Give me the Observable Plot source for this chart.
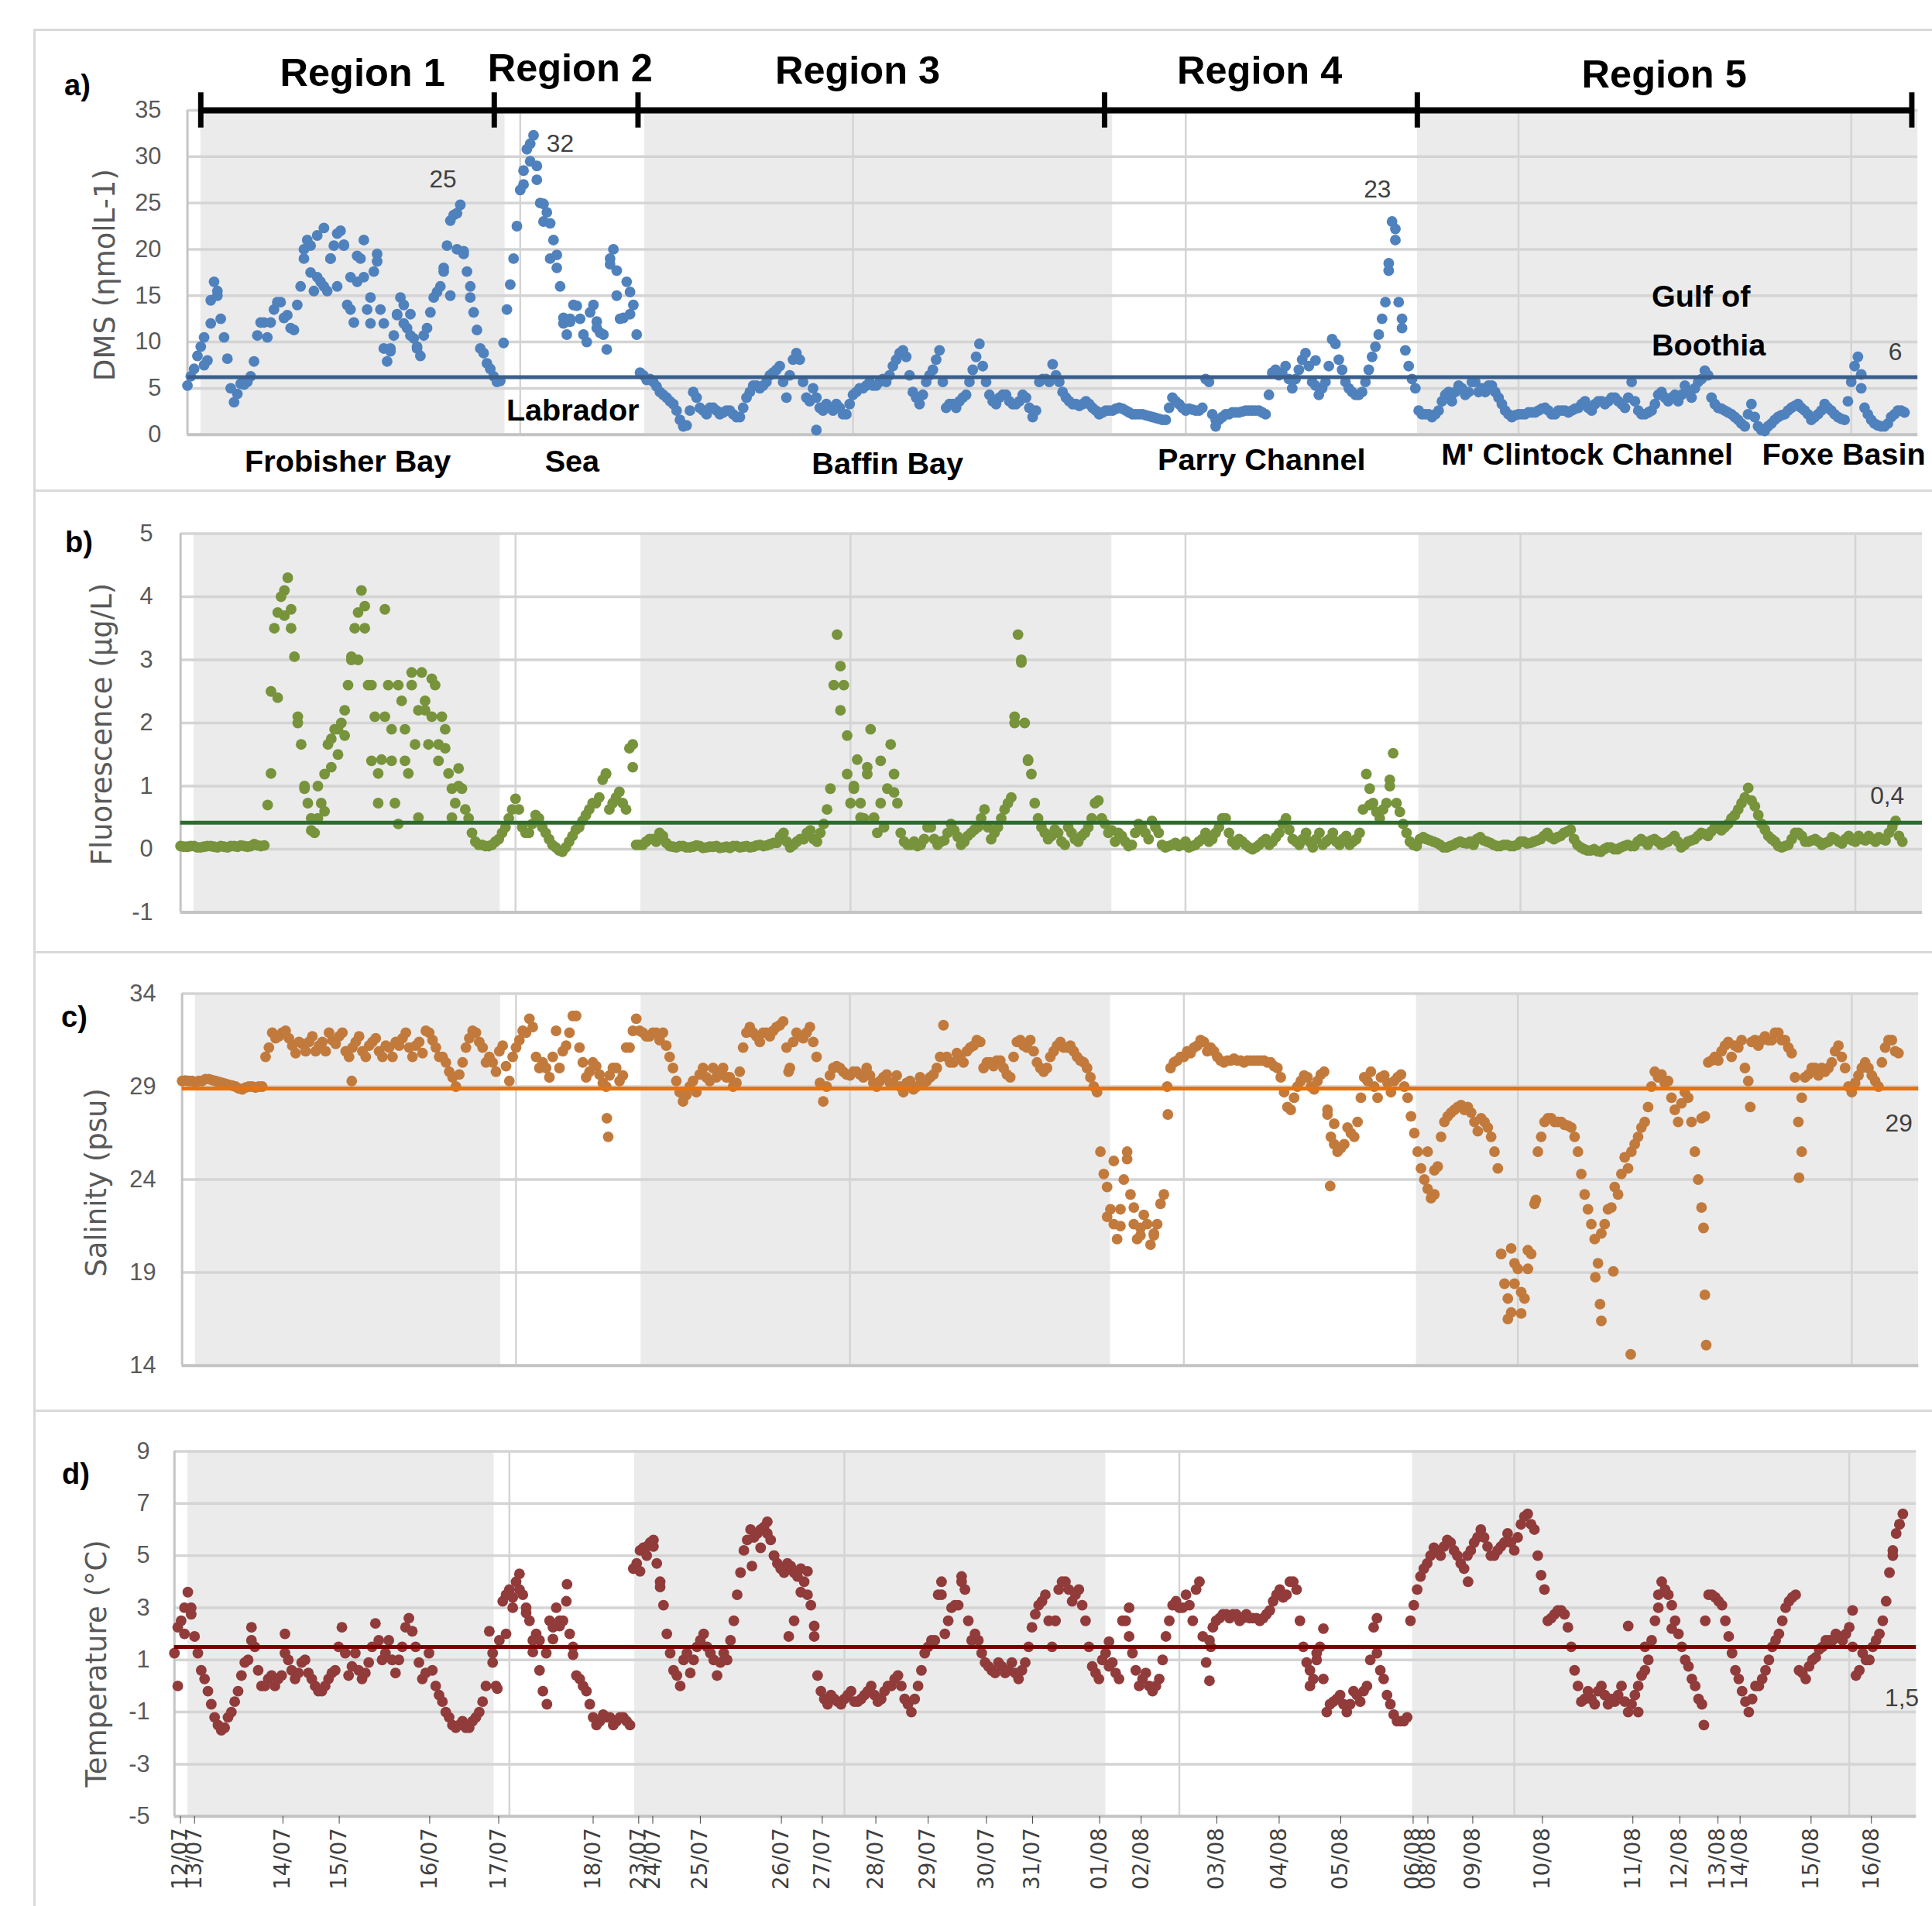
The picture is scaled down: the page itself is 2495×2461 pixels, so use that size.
<!DOCTYPE html>
<html>
<head>
<meta charset="utf-8">
<script src="https://cdn.jsdelivr.net/npm/d3@7"></script>
<script src="https://cdn.jsdelivr.net/npm/@observablehq/plot@0.6"></script>
<style>
html,body{margin:0;padding:0;background:#fff;}
body{width:2495px;height:2461px;overflow:hidden;position:relative;}
.frame{position:absolute;border:3px solid #D9D9D9;box-sizing:border-box;}
.panel{position:absolute;left:0;}
.letter{position:absolute;font-family:"Liberation Sans",Arial,sans-serif;font-weight:bold;font-size:38px;color:#000;transform:translate(-50%,-50%);}
.ytitle{position:absolute;font-family:"DejaVu Sans",sans-serif;font-size:37px;color:#595959;white-space:nowrap;transform:translate(-50%,-50%) rotate(-90deg);}
</style>
</head>
<body>
<div class="frame" style="left:43px;top:37px;width:2600px;height:598px"></div>
<div class="frame" style="left:43px;top:632px;width:2600px;height:599px"></div>
<div class="frame" style="left:43px;top:1228px;width:2600px;height:595px"></div>
<div class="frame" style="left:43px;top:1820px;width:2600px;height:700px"></div>
<div id="pa" class="panel" style="top:38px"></div>
<div id="pb" class="panel" style="top:634px"></div>
<div id="pc" class="panel" style="top:1229px"></div>
<div id="pd" class="panel" style="top:1821px"></div>
<div class="letter" style="left:100px;top:110px">a)</div>
<div class="letter" style="left:102px;top:700px">b)</div>
<div class="letter" style="left:96px;top:1313px">c)</div>
<div class="letter" style="left:98px;top:1903px">d)</div>
<div class="ytitle" style="left:135px;top:355px">DMS (ηmolL-1)</div>
<div class="ytitle" style="left:131px;top:935px">Fluorescence (µg/L)</div>
<div class="ytitle" style="left:124px;top:1527px">Salinity (psu)</div>
<div class="ytitle" style="left:124px;top:2148px">Temperature (°C)</div>
<script>
// x axis = sample number; readings every STEP samples, plus readings half-way between them
const STEP = 10;

// ---- DMS (nmol/L): samples 0,10,...,2580 ----
const dms = [
5.3,7.1,9.5,8.0,16.5,12.5,8.2,3.5,5.5,5.7,
7.9,12.1,10.5,13.5,14.3,12.9,11.3,16.0,21.0,15.5,
16.5,15.5,20.4,22.0,14.0,12.1,19.0,13.5,17.6,13.5,
7.9,10.7,14.8,11.5,10.4,8.5,11.5,14.8,16.0,20.4,
23.7,24.8,17.6,13.2,9.3,7.7,6.3,5.8,13.5,19.0,
26.4,30.8,32.3,25.0,24.0,21.0,16.0,10.8,14.0,12.5,
10.0,14.0,11.0,9.2,20.0,12.5,16.5,14.0,6.7,5.9,
5.7,4.6,4.0,3.3,1.6,1.0,4.6,2.9,2.2,2.9,
2.2,2.6,2.2,1.9,4.0,5.3,5.0,5.7,6.7,7.4,
4.0,8.1,8.1,4.0,5.0,2.9,3.3,2.6,2.9,2.2,
4.3,5.0,5.3,5.3,5.7,5.7,7.4,8.8,8.4,4.6,
3.3,5.7,7.0,9.1,2.9,3.3,3.6,4.3,7.0,9.8,
5.7,3.6,4.0,4.3,3.3,3.6,4.0,1.9,5.7,6.0,
7.6,5.7,4.0,3.3,3.1,3.6,2.9,2.2,2.6,2.6,
2.9,2.6,2.2,2.2,2.1,1.9,1.7,1.6,4.0,3.3,
2.6,2.7,2.6,6.0,2.2,1.6,2.2,2.4,2.4,2.6,
2.6,2.6,2.2,6.7,6.4,7.4,5.0,7.0,8.8,5.7,
4.3,5.7,10.3,8.1,5.7,4.6,4.3,5.7,8.4,10.8,
14.3,23.0,14.3,9.1,6.0,2.6,2.2,1.9,2.6,4.3,
3.6,5.3,4.3,5.7,4.6,4.6,5.3,4.0,2.6,1.9,
2.2,2.2,2.4,2.6,2.9,2.2,2.6,2.6,2.6,2.9,
3.6,2.6,3.6,3.3,4.0,3.6,2.9,5.7,2.6,2.2,
2.6,4.3,4.0,4.0,3.6,5.3,4.0,5.7,6.9,4.0,
2.9,2.6,2.2,1.6,0.9,3.3,0.9,0.4,1.2,1.9,
2.2,2.9,3.3,2.6,1.6,2.2,3.3,2.6,1.9,1.6,
5.7,8.4,2.9,1.6,1.0,0.9,1.9,2.6,2.4];
// DMS: samples 5,15,...,2575
const dmsMid = [
6.3,8.5,7.5,12.0,15.5,10.5,5.0,4.4,5.4,6.3,
10.7,12.1,12.1,14.3,12.6,11.5,14.0,19.0,20.4,17.0,
16.0,19.0,21.7,20.4,13.5,19.3,21.0,14.8,18.7,9.3,
9.3,12.9,14.0,10.7,9.3,10.7,13.2,15.4,17.6,23.1,
23.9,19.8,14.8,11.3,8.8,7.1,5.7,9.9,16.2,22.5,
27.0,31.4,29.0,24.9,22.8,19.4,12.6,12.2,13.9,10.8,
13.2,12.2,10.8,18.4,17.7,12.6,15.4,10.8,6.4,6.0,
5.2,4.3,3.6,2.6,0.9,2.6,4.0,2.6,2.9,2.6,
2.4,2.6,1.9,2.9,4.6,5.3,5.3,6.4,7.0,5.7,
6.4,8.8,5.7,3.6,4.0,2.6,2.9,3.3,2.2,3.3,
4.6,5.0,5.7,5.3,6.0,6.4,8.1,9.1,6.4,4.0,
4.3,6.4,8.1,5.7,3.3,2.9,4.0,5.7,8.4,7.4,
4.3,3.3,4.3,3.6,3.3,4.3,2.9,2.6,6.0,5.7,
6.4,4.6,3.6,3.3,3.3,3.3,2.6,2.4,2.6,2.8,
2.8,2.4,2.2,2.2,2.0,1.8,1.6,2.9,3.6,2.9,
2.8,2.6,2.9,5.7,1.6,1.9,2.2,2.4,2.5,2.6,
2.6,2.4,4.3,7.0,6.7,6.0,6.0,8.1,7.4,5.3,
5.0,7.4,9.8,7.0,5.0,4.3,4.6,7.0,9.5,12.5,
17.7,22.2,12.5,7.4,5.0,2.2,2.2,2.2,3.6,4.6,
4.6,5.0,4.6,5.7,5.0,5.3,4.6,3.3,2.2,2.1,
2.2,2.4,2.4,2.8,2.6,2.2,2.6,2.4,2.8,3.3,
2.9,3.3,3.6,3.6,4.0,3.3,4.0,3.6,2.2,2.4,
3.3,4.6,3.6,4.3,4.3,4.6,5.0,6.0,6.4,3.3,
2.8,2.4,1.9,1.2,2.2,1.9,0.5,0.9,1.6,2.1,
2.6,3.1,2.9,2.2,1.9,2.6,2.9,2.2,1.7,3.6,
7.4,5.0,2.2,1.2,0.9,1.2,2.2,2.6];
// DMS: other single readings [sample, value] inside the scattered clouds
const dmsExtra = [[25,10.5],[35,14.5],[45,15.0],[175,20.0],[185,17.5],[195,21.5],[205,22.3],[215,19.0],[225,16.0],[235,20.5],[245,17.0],[255,16.5],[265,17.0],[275,12.0],[285,19.5],[295,12.0],[305,9.0],[315,13.0],[325,12.0],[335,13.0],[345,9.5],[385,18.0],[395,15.0],[405,20.0],[415,19.5],[425,16.0],[505,28.5],[515,29.5],[525,27.5],[535,23.0],[545,19.0],[555,18.0],[565,12.0],[575,12.5],[615,11.5],[635,19.0],[645,15.0],[665,13.0],[945,0.5],[1545,0.9],[1695,8.0],[1805,18.5],[1815,21.0],[1825,11.5],[2515,6.5]];

// ---- Fluorescence (µg/L): samples 0..2570 ----
const fluor = [
0.05,0.04,0.05,0.03,0.05,0.04,0.05,0.03,0.05,0.06,
0.04,0.08,0.05,0.7,3.5,4.0,4.3,3.05,1.66,0.73,
0.26,0.73,1.66,1.9,2.0,2.6,3.5,4.1,2.6,2.1,
1.42,2.6,0.73,2.35,1.2,1.66,2.8,1.66,2.6,2.1,
1.2,0.73,0.96,0.49,0.12,0.07,0.05,0.12,0.26,0.49,
0.8,0.35,0.26,0.54,0.35,0.16,0.03,-0.04,0.12,0.31,
0.45,0.63,0.73,1.1,0.63,0.82,0.73,1.6,0.07,0.07,
0.16,0.12,0.21,0.05,0.03,0.05,0.03,0.06,0.02,0.04,
0.05,0.03,0.02,0.05,0.04,0.03,0.06,0.05,0.08,0.1,
0.26,0.03,0.12,0.16,0.3,0.12,0.4,0.96,3.4,2.6,
0.73,1.42,0.49,1.9,0.26,0.35,1.66,0.73,0.12,0.07,
0.05,0.16,0.35,0.07,0.14,0.4,0.2,0.12,0.26,0.35,
0.63,0.16,0.35,0.63,0.82,3.4,2.0,1.19,0.49,0.26,
0.21,0.26,0.07,0.26,0.12,0.26,0.49,0.77,0.4,0.3,
0.26,0.12,0.07,0.4,0.26,0.45,0.26,0.03,0.07,0.05,
0.12,0.05,0.12,0.26,0.16,0.35,0.49,0.12,0.16,0.07,
0,0.07,0.16,0.12,0.26,0.49,0.16,0.07,0.26,0.03,
0.26,0.12,0.26,0.07,0.21,0.12,0.26,1.19,0.73,0.49,
0.73,1.52,0.59,0.26,0.07,0.16,0.16,0.12,0.07,0.03,
0.07,0.12,0.09,0.07,0.19,0.12,0.07,0.05,0.07,0.05,
0.12,0.09,0.12,0.16,0.26,0.16,0.21,0.28,0.16,0.03,
-0.02,0,-0.04,0.03,0,0.03,0.07,0.05,0.16,0.07,
0.16,0.07,0.12,0.21,0.03,0.12,0.16,0.26,0.21,0.35,
0.3,0.4,0.54,0.73,0.97,0.68,0.4,0.21,0.12,0.03,
0.07,0.26,0.21,0.12,0.16,0.07,0.12,0.16,0.09,0.21,
0.12,0.16,0.21,0.12,0.16,0.26,0.45,0.12];
// Fluorescence: samples 5..2565
const fluorMid = [
0.04,0.05,0.03,0.04,0.05,0.03,0.04,0.05,0.04,0.05,
0.05,0.06,0.06,2.5,3.75,4.1,3.5,2.1,0.96,0.49,
0.49,1.19,1.75,1.9,2.2,3.05,3.75,3.5,2.6,0.73,
2.1,1.9,2.6,1.9,2.8,2.2,2.35,2.1,1.66,1.9,
0.96,1.28,0.63,0.26,0.07,0.05,0.07,0.16,0.35,0.63,
0.63,0.26,0.4,0.49,0.26,0.07,-0.02,0.03,0.21,0.35,
0.54,0.73,0.82,1.19,0.73,0.91,0.63,1.66,0.07,0.12,
0.16,0.26,0.1,0.04,0.05,0.03,0.04,0.05,0.03,0.04,
0.02,0.04,0.05,0.03,0.05,0.04,0.07,0.06,0.1,0.2,
0.12,0.07,0.16,0.26,0.16,0.26,0.63,2.6,2.2,1.19,
0.96,0.73,1.19,0.49,0.73,0.96,1.19,0.26,0.07,0.12,
0.07,0.35,0.16,0.12,0.26,0.3,0.07,0.21,0.31,0.49,
0.35,0.26,0.49,0.73,2.1,2.96,1.42,0.73,0.35,0.16,
0.31,0.12,0.35,0.16,0.21,0.35,0.73,0.49,0.26,0.12,
0.21,0.05,0.26,0.35,0.16,0.35,0.07,0.05,0.1,0.07,
0.03,0.07,0.16,0.12,0.26,0.49,0.26,0.07,0.12,0.03,
0.03,0.12,0.07,0.19,0.4,0.31,0.12,0.16,0.12,0.16,
0.07,0.16,0.12,0.16,0.07,0.16,0.63,0.96,0.59,0.63,
1.1,0.73,0.4,0.12,0.05,0.19,0.14,0.1,0.03,0.05,
0.1,0.1,0.12,0.16,0.14,0.1,0.05,0.07,0.05,0.07,
0.12,0.1,0.14,0.21,0.19,0.19,0.26,0.31,0.07,0,
-0.02,-0.03,0,0.03,0,0.05,0.05,0.12,0.12,0.14,
0.12,0.1,0.16,0.12,0.07,0.14,0.21,0.24,0.28,0.33,
0.35,0.49,0.63,0.82,0.77,0.54,0.31,0.16,0.05,0.05,
0.16,0.26,0.12,0.14,0.12,0.1,0.19,0.12,0.16,0.14,
0.21,0.14,0.16,0.19,0.14,0.35,0.21];
const fluorExtra = [[135,1.2],[145,2.4],[155,3.7],[165,3.8],[175,2.0],[185,1.0],[195,0.3],[205,1.0],[215,0.6],[225,1.3],[235,1.5],[245,1.8],[255,3.0],[265,3.0],[275,3.85],[285,1.4],[295,1.2],[305,3.8],[315,1.4],[325,0.4],[335,1.4],[345,2.6],[355,0.5],[365,2.2],[375,2.7],[385,1.4],[395,1.6],[405,0.5],[415,1.0],[635,1.2],[675,1.3],[985,2.9],[995,1.8],[1005,1.0],[1015,0.5],[1025,1.3],[1035,0.5],[1045,1.4],[1065,0.9],[1245,2.0],[1255,3.0],[1265,1.4],[1775,0.7],[1805,1.0]];

// ---- Salinity (psu): samples 0..2570 ----
const sal = [
29.3,29.3,29.25,29.3,29.4,29.3,29.2,29.1,29.0,28.85,
29.0,28.95,29.0,31.1,31.6,31.9,31.6,30.8,31.3,31.4,
30.9,31.4,31.9,31.3,31.9,30.6,31.4,30.9,31.2,31.6,
30.6,31.1,31.4,31.6,31.1,31.2,30.8,31.9,31.1,30.6,
29.8,29.0,30.3,31.6,31.9,31.1,30.6,29.8,31.2,29.3,
31.1,32.0,32.65,30.6,30.3,29.5,32.0,30.9,31.9,32.8,
30.3,29.8,30.1,29.2,29.6,30.0,29.6,31.1,32.65,31.9,
31.7,31.9,31.9,30.6,29.3,28.2,29.0,28.7,30.0,29.3,
29.5,30.0,29.5,29.2,31.1,32.2,31.7,31.9,31.7,32.2,
32.5,30.0,31.9,31.6,32.2,30.6,28.2,29.6,30.1,29.8,
29.6,29.8,29.5,29.6,29.0,29.5,29.2,29.6,28.7,29.3,
29.0,29.2,29.5,30.0,32.3,30.3,30.8,30.3,31.1,31.5,
30.0,30.3,30.4,30.0,29.5,31.4,31.2,31.5,30.3,29.8,
30.6,31.2,31.1,31.2,30.6,30.3,29.5,28.7,24.3,22.4,
20.8,24.0,23.2,20.8,22.1,20.5,21.6,23.2,30.0,30.4,
30.6,30.8,31.2,31.4,31.1,30.6,30.3,30.4,30.4,30.3,
30.4,30.4,30.4,30.3,30.0,28.7,27.75,29.0,29.6,29.0,
29.3,29.8,26.3,25.5,25.9,26.5,27.1,29.5,29.8,28.4,
29.6,28.7,29.5,29.0,27.4,25.5,24.0,23.0,24.7,27.1,
27.6,27.9,27.75,27.6,26.6,27.1,26.3,24.6,18.4,16.85,
19.2,17.6,20.0,25.5,27.1,27.3,27.1,26.95,26.8,25.5,
23.2,21.6,19.5,21.6,22.5,23.2,25.2,25.5,26.3,27.1,
29.0,29.5,29.2,28.4,27.1,28.7,27.1,24.0,27.4,30.4,
30.4,31.2,30.6,31.1,30.0,31.4,31.2,31.7,31.5,31.9,
31.5,30.8,27.1,29.5,30.0,29.6,29.8,30.3,31.2,30.0,
28.7,29.6,30.3,29.6,29.0,31.1,31.5,30.8];
// Salinity: samples 5..2565
const salMid = [
29.33,29.3,29.3,29.4,29.35,29.25,29.15,29.05,28.9,28.95,
29.0,29.0,30.6,31.9,31.7,32.0,31.2,31.4,30.9,31.7,
31.2,30.9,31.5,31.7,30.9,31.1,31.7,30.6,31.4,30.9,
31.2,30.6,31.2,31.9,30.6,31.4,32.0,31.5,30.6,30.3,
29.5,29.65,31.1,32.0,31.4,30.3,30.3,30.9,30.1,30.6,
31.5,31.9,32.2,30.0,30.0,30.6,30.0,31.2,32.8,31.1,
29.5,30.3,29.65,29.0,30.0,29.3,31.1,32.0,32.0,31.7,
31.9,31.5,31.2,30.0,28.7,28.55,29.3,29.65,29.5,30.0,
29.65,29.5,29.0,29.8,31.9,31.9,31.4,31.9,32.0,32.3,
31.1,31.4,31.7,31.9,31.4,29.2,29.0,30.0,30.0,29.65,
29.8,29.65,30.0,29.2,29.3,29.65,29.2,29.0,29.2,28.85,
29.5,29.3,29.65,30.6,30.6,30.3,30.6,30.9,31.2,31.4,
30.3,30.1,30.4,29.65,30.6,31.5,31.1,30.9,30.0,30.0,
30.9,31.4,31.1,30.9,30.4,30.0,29.0,25.5,23.6,21.6,
22.4,25.1,21.6,21.4,21.6,21.1,22.7,29.0,30.3,30.6,
30.9,31.1,31.5,30.9,30.9,30.4,30.4,30.5,30.4,30.4,
30.4,30.4,30.3,30.1,29.5,27.9,28.4,29.3,29.5,28.85,
29.65,27.75,25.9,25.7,26.8,26.3,28.4,29.3,29.0,29.5,
29.2,29.3,29.65,28.4,26.5,24.6,23.5,23.2,26.3,27.4,
27.75,28.0,27.9,27.1,27.3,26.8,25.5,20.0,17.6,18.4,
17.95,19.2,22.7,26.3,27.3,27.1,27.1,26.9,26.3,24.3,
22.4,20.8,21.1,22.4,23.6,24.3,24.6,25.9,26.8,27.9,
29.8,29.65,29.3,27.75,28.1,28.4,25.5,27.3,30.3,30.6,
30.9,31.4,31.2,31.5,29.3,31.5,31.5,31.5,31.9,31.5,
31.1,29.5,28.4,29.65,30.0,30.0,30.0,30.9,30.6,29.0,
29.2,30.0,30.0,29.3,30.3,31.5,30.9];
const salExtra = [[254,29.3],[636,27.3],[638,26.3],[908,29.8],[1385,22.0],[1395,25.0],[1405,21.5],[1415,25.5],[1425,22.5],[1435,21.0],[1455,21.0],[1476,27.5],[1715,27.5],[1719,23.65],[1725,27.0],[1865,25.5],[1875,24.5],[1975,20.0],[1985,16.5],[1990,20.3],[1995,19.5],[2005,16.8],[2015,20.2],[2027,22.9],[2116,18.75],[2123,17.3],[2125,16.4],[2143,19.06],[2169,14.6],[2275,22.5],[2278,21.4],[2280,17.8],[2282,15.1],[2348,27.9],[2421,24.1],[2425,25.5]];

// ---- Temperature (°C): samples 0..2580 ----
const temp = [
1.26,2.5,3.6,1.9,0.6,-0.2,-1.2,-1.7,-1.2,-0.6,
0.4,1.0,1.5,0.0,0.27,0.0,0.4,1.0,0.27,0.9,
0.5,0.0,-0.2,0.27,0.6,2.25,0.4,1.26,0.27,0.9,
2.4,1.0,1.75,0.5,1.5,2.6,1.5,0.27,1.26,0.0,
-0.6,-1.2,-1.6,-1.35,-1.6,-1.2,-0.6,2.1,0.0,3.25,
3.7,4.0,3.5,2.5,2.0,-0.2,2.5,3.0,2.5,2.0,
0.4,0.0,-0.7,-1.5,-1.1,-1.2,-1.35,-1.2,-1.5,4.7,
5.3,5.5,4.7,3.1,1.26,0.4,1.0,0.5,1.5,2.0,
1.26,0.4,1.26,1.75,3.5,5.2,6.0,5.85,6.1,5.6,
4.7,4.35,4.6,4.2,4.0,3.1,0.4,-0.5,-0.35,-0.6,
-0.5,-0.2,-0.6,-0.35,0.0,-0.6,-0.2,0.0,0.4,-0.5,
-1.0,0.0,1.26,1.75,3.5,2.0,3.0,3.1,3.7,1.75,
1.75,0.9,0.6,0.9,0.5,0.9,0.27,0.9,2.25,3.1,
3.5,1.5,3.7,4.0,3.25,3.7,2.5,0.75,0.27,1.26,
0.9,0.27,2.5,1.26,0.0,0.5,-0.2,0.27,1.9,3.1,
3.0,3.5,2.5,4.0,0.9,2.25,2.6,2.75,2.75,2.5,
2.75,2.6,2.5,2.75,3.25,3.7,3.5,4.0,2.5,0.9,
0.27,1.5,-1.0,-0.6,-0.35,-1.0,-0.2,-0.6,0.0,2.25,
0.6,-0.35,-1.1,-1.35,-1.2,3.1,4.2,4.7,5.3,5.0,
5.6,5.2,4.7,5.0,5.5,6.0,5.35,5.0,5.35,5.85,
5.2,6.2,6.6,6.0,4.25,2.5,2.75,2.9,2.25,0.6,
-0.6,-0.2,-0.7,0.0,-0.7,-0.6,0.0,-1.0,-0.35,0.4,
1.0,2.5,4.0,3.5,2.5,1.5,0.75,0.0,-0.7,3.5,
3.4,3.1,1.9,0.6,-0.2,-1.0,0.0,0.27,1.0,1.75,
2.5,3.25,3.5,0.5,0.75,1.1,1.5,1.75,2.0,1.75,
2.25,0.4,1.26,1.0,1.75,2.5,4.35,5.85,6.6];
// Temperature: samples 5..2575
const tempMid = [
2.25,3.0,2.75,1.26,0.27,-0.7,-1.5,-1.6,-1.0,-0.2,
0.9,1.75,0.6,0.0,0.4,0.27,1.26,0.6,0.5,1.0,
0.27,-0.2,0.0,0.5,1.5,1.26,0.75,0.6,0.5,1.5,
1.75,1.26,1.0,1.0,2.25,2.1,0.9,0.5,0.6,-0.35,
-1.0,-1.5,-1.5,-1.6,-1.35,-1.0,0.0,1.26,1.75,3.5,
3.4,3.7,3.0,1.75,1.75,1.26,2.25,2.5,3.25,1.5,
0.27,-0.2,-1.2,-1.35,-1.2,-1.5,-1.2,-1.35,4.5,5.2,
5.35,5.35,4.0,2.0,0.6,0.0,1.26,1.0,1.75,1.5,
1.0,0.9,1.0,2.5,4.35,5.6,5.7,6.0,5.85,5.0,
4.5,4.7,4.35,4.5,3.5,1.9,-0.2,-0.7,-0.5,-0.7,
-0.35,-0.6,-0.5,-0.2,-0.35,-0.5,0.0,0.27,0.0,-0.7,
-0.5,0.6,1.5,1.75,3.5,2.5,3.1,4.0,2.5,2.0,
1.26,0.75,0.5,0.75,0.6,0.5,0.6,1.5,2.75,3.25,
2.5,2.5,4.0,3.7,3.5,3.1,1.5,0.5,1.0,0.75,
0.5,2.5,1.9,0.6,0.27,0.0,0.0,1.0,2.5,3.25,
3.0,3.1,3.7,1.9,1.75,2.5,2.75,2.6,2.75,2.6,
2.6,2.6,2.6,2.9,3.5,3.4,4.0,3.7,1.5,0.6,
1.26,0.27,-0.7,-0.5,-0.7,-0.7,-0.35,-0.2,1.0,1.26,
0.27,-0.7,-1.35,-1.35,2.5,3.7,4.5,5.0,5.2,5.35,
5.5,5.0,4.5,5.2,5.7,5.7,5.0,5.2,5.5,5.5,
5.7,6.5,6.2,5.0,3.7,2.6,2.9,2.75,1.5,0.0,
-0.5,-0.5,-0.2,-0.35,-0.5,-0.35,-0.6,-0.7,0.0,0.6,
1.75,3.5,3.7,3.1,2.0,1.0,0.27,-0.5,2.5,3.5,
3.25,2.5,1.26,0.27,-0.6,-0.5,0.0,0.6,1.5,2.0,
3.0,3.4,0.6,0.27,1.0,1.4,1.75,1.75,1.9,2.0,
1.5,0.6,1.0,1.5,2.0,3.25,5.0,6.2];
const tempExtra = [[5,0.0],[15,2.0],[25,3.0],[115,2.25],[165,2.0],[475,0.9],[482,-0.1],[495,2.0],[505,3.0],[515,4.3],[525,2.8],[535,1.3],[545,0.6],[556,-0.7],[565,1.8],[575,2.3],[586,3.9],[595,1.2],[695,4.4],[705,5.0],[715,5.6],[725,3.8],[862,4.6],[875,5.3],[885,6.3],[895,5.0],[917,1.9],[925,2.5],[935,3.6],[945,4.4],[955,2.3],[1145,4.0],[1175,4.2],[1315,2.5],[1395,1.7],[1425,3.0],[1545,0.2],[1547,1.5],[1695,0.0],[1705,1.0],[1715,2.2],[1795,2.6],[1931,4.0],[2170,2.3],[2185,-1.0],[2195,1.5],[2215,3.0],[2235,2.2],[2283,-1.5],[2505,2.9],[2565,5.2],[2575,6.2]];

// ---- mean values and their labels ----
const means = {dms: 6.2, fluor: 0.42, sal: 28.9, temp: 1.5};
const meanLabels = ["6", "0,4", "29", "1,5"];

// ---- axis ticks ----
const dmsTicks = [0,5,10,15,20,25,30,35];
const fluorTicks = [-1,0,1,2,3,4,5];
const salTicks = [14,19,24,29,34];
const tempTicks = [-5,-3,-1,1,3,5,7,9];
const xGrid = [500,1000,1500,2000,2500];
const dateLabels = ["12/07","13/07","14/07","15/07","16/07","17/07","18/07","23/07","24/07","25/07","26/07","27/07","28/07","29/07","30/07","31/07","01/08","02/08","03/08","04/08","05/08","06/08","08/08","09/08","10/08","11/08","12/08","13/08","14/08","15/08","16/08"];
const dateTicks = [9,30,162,246,381,484,625,693,714,785,906,967,1047,1125,1212,1281,1381,1443,1556,1649,1741,1849,1871,1938,2042,2177,2247,2304,2337,2443,2533];

// ---- regions ----
const regionNames = ["Region 1","Region 2","Region 3","Region 4","Region 5"];
const regionLabelX = [263,575,1007,1611,2219];
const regionLabelY = [39.0,39.5,39.2,39.2,38.8];
const regionBounds = [20,461,677,1378,1848,2591];
const shadeStart = [20,687,1848];
const shadeEnd = [477,1390,2600];

// ---- place names (panel a) ----
const placeNames = ["Frobisher Bay","Labrador","Sea","Baffin Bay","Parry Channel","M' Clintock Channel"];
const placeX = [241,579,578,1052,1614,2103];
const placeY = [-2.9,2.6,-2.9,-3.2,-2.8,-2.2];
const placeLeftNames = ["Gulf of","Boothia","Foxe Basin"];
const placeLeftX = [2200,2200,2366];
const placeLeftY = [14.9,9.6,-2.2];

// ---- peak labels (panel a) ----
const peakLabels = ["25","32","23"];
const peakX = [384,560,1788];
const peakY = [27.5,31.4,26.4];

const REG = "Liberation Sans, Arial, sans-serif";
const W = 2520;
const XDOM = [0, 2600];
const fmt = d => String(d);

function panel(o) {
  const rows = o.values.map((v, k) => ({i: k * STEP, v}))
    .concat(o.mid.map((v, k) => ({i: k * STEP + STEP / 2, v})))
    .concat(o.extra.map(([i, v]) => ({i, v})));
  const bands = shadeStart.map((s, k) => ({x1: s, x2: shadeEnd[k]}));
  const [lo, hi] = o.yDomain;
  const marks = [
    Plot.rect(bands, {x1: "x1", x2: "x2", y1: () => lo, y2: () => hi, fill: "#EBEBEB"}),
    Plot.ruleY(o.yTicks, {stroke: "#D4D4D4", strokeWidth: 3.5}),
    Plot.ruleX(xGrid, {stroke: "#D4D4D4", strokeWidth: 2.5}),
    Plot.ruleX([0], {stroke: "#C4C4C4", strokeWidth: 3}),
    Plot.ruleY([lo], {stroke: "#C4C4C4", strokeWidth: 4}),
    Plot.dot(rows, {x: "i", y: "v", r: 7, fill: o.color, stroke: null}),
    Plot.ruleY([o.mean], {stroke: o.meanColor, strokeWidth: 5}),
    Plot.axisY({ticks: o.yTicks, tickFormat: fmt, label: null, tickSize: 0, tickPadding: o.pad, fontSize: 31, color: "#595959", fontFamily: REG}),
    Plot.text([o.meanLabel], {x: () => o.mlx, y: () => o.mly, text: d => d, textAnchor: o.mlAnchor, fontSize: 32, fill: "#404040", fontFamily: REG}),
    ...(o.more || [])
  ];
  return Plot.plot({
    width: W, height: o.height,
    marginLeft: o.left, marginRight: W - o.right, marginTop: o.mt, marginBottom: o.mb,
    x: {domain: XDOM, axis: null},
    y: {domain: o.yDomain, axis: null},
    style: {fontFamily: REG, background: "transparent", overflow: "visible"},
    marks
  });
}

const regionRows = regionNames.map((t, k) => ({t, x: regionLabelX[k], y: regionLabelY[k]}));
const placeRows = placeNames.map((t, k) => ({t, x: placeX[k], y: placeY[k]}));
const placeLeftRows = placeLeftNames.map((t, k) => ({t, x: placeLeftX[k], y: placeLeftY[k]}));
const peakRows = peakLabels.map((t, k) => ({t, x: peakX[k], y: peakY[k]}));

document.getElementById("pa").append(panel({
  values: dms, mid: dmsMid, extra: dmsExtra, color: "#4F81BD", mean: means.dms, meanColor: "#3A5F8C",
  yDomain: [0, 35], yTicks: dmsTicks, left: 244, right: 2501, height: 596, mt: 105, mb: 68, pad: 34,
  meanLabel: meanLabels[0], mlx: 2566, mly: 8.9, mlAnchor: "middle",
  more: [
    Plot.ruleY([35], {x1: regionBounds[0], x2: regionBounds[regionBounds.length - 1], stroke: "#000", strokeWidth: 8}),
    Plot.ruleX(regionBounds, {y1: 33.1, y2: 36.9, stroke: "#000", strokeWidth: 7}),
    Plot.text(regionRows, {x: "x", y: "y", text: "t", fontSize: 51, fontWeight: "bold", fill: "#000", fontFamily: REG}),
    Plot.text(placeRows, {x: "x", y: "y", text: "t", fontSize: 40, fontWeight: "bold", fill: "#000", fontFamily: REG}),
    Plot.text(placeLeftRows, {x: "x", y: "y", text: "t", textAnchor: "start", fontSize: 40, fontWeight: "bold", fill: "#000", fontFamily: REG}),
    Plot.text(peakRows, {x: "x", y: "y", text: "t", fontSize: 32, fill: "#404040", fontFamily: REG})
  ]
}));

document.getElementById("pb").append(panel({
  values: fluor, mid: fluorMid, extra: fluorExtra, color: "#77933C", mean: means.fluor, meanColor: "#2C6B2C",
  yDomain: [-1, 5], yTicks: fluorTicks, left: 235, right: 2507, height: 595, mt: 55, mb: 46, pad: 36,
  meanLabel: meanLabels[1], mlx: 2522, mly: 0.84, mlAnchor: "start"
}));

document.getElementById("pc").append(panel({
  values: sal, mid: salMid, extra: salExtra, color: "#C27A3C", mean: means.sal, meanColor: "#E8720C",
  yDomain: [14, 34], yTicks: salTicks, left: 237, right: 2502, height: 592, mt: 54, mb: 53, pad: 34,
  meanLabel: meanLabels[2], mlx: 2550, mly: 27.0, mlAnchor: "start"
}));

document.getElementById("pd").append(panel({
  values: temp, mid: tempMid, extra: tempExtra, color: "#913B3B", mean: means.temp, meanColor: "#7B0000",
  yDomain: [-5, 9], yTicks: tempTicks, left: 227, right: 2499, height: 640, mt: 53, mb: 111, pad: 32,
  meanLabel: meanLabels[3], mlx: 2553, mly: -0.47, mlAnchor: "start",
  more: [
    Plot.axisX({ticks: dateTicks, tickFormat: d => dateLabels[dateTicks.indexOf(d)], label: null, tickRotate: -90, tickSize: 10, tickPadding: 5, fontSize: 28, color: "#404040", fontFamily: "DejaVu Sans, sans-serif"})
  ]
}));
</script>
</body>
</html>
